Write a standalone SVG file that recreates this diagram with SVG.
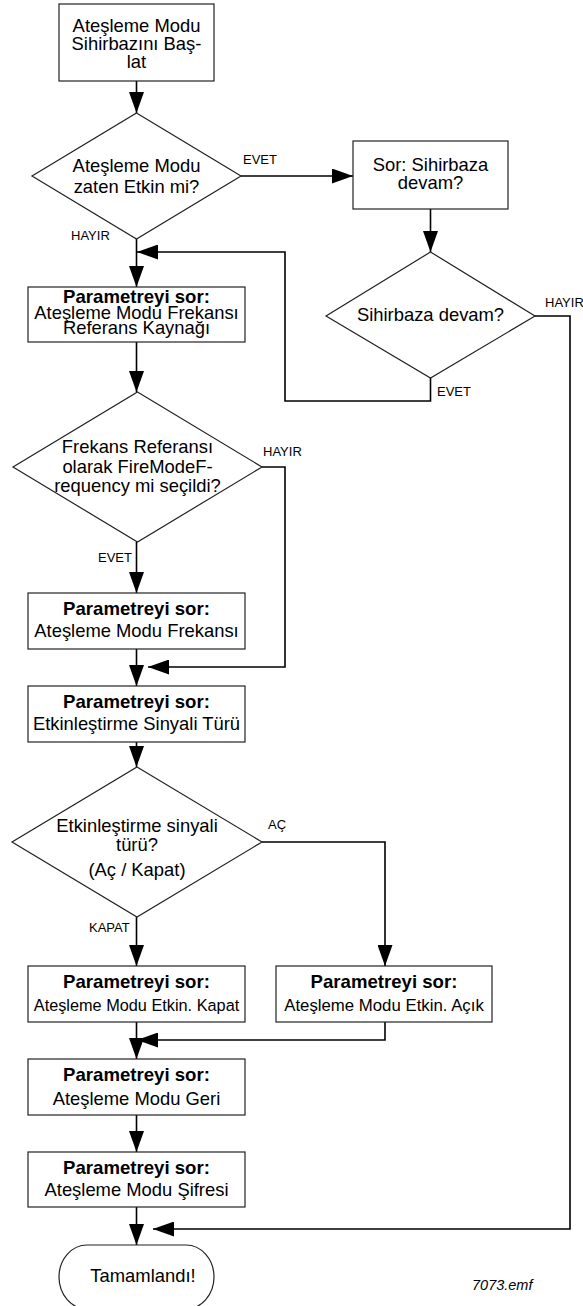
<svg xmlns="http://www.w3.org/2000/svg" width="583" height="1306" viewBox="0 0 583 1306">
<style>
.shape{fill:#fff;stroke:#222;stroke-width:1.2}
.t{font-family:"Liberation Sans",Arial,sans-serif;font-size:18.4px;fill:#000;text-anchor:middle}
.b{font-weight:bold;font-size:18.6px}
.s{font-size:16.3px}
.lbl{font-family:"Liberation Sans",Arial,sans-serif;font-size:13px;fill:#000}
.c{fill:none;stroke:#000;stroke-width:1.6}
</style>
<defs>
<marker id="ah" markerUnits="userSpaceOnUse" markerWidth="21" markerHeight="15" refX="21" refY="7.5" orient="auto" viewBox="0 0 21 15">
<path d="M0,0 L21,7.5 L0,15 z" fill="#000"/>
</marker>
</defs>
<rect width="583" height="1306" fill="#fff"/>
<g id="connectors">
<path class="c" d="M136.5,81 V113" marker-end="url(#ah)"/>
<path class="c" d="M241,176 H353" marker-end="url(#ah)"/>
<path class="c" d="M430.5,209 V252" marker-end="url(#ah)"/>
<path class="c" d="M430.5,378 V401 H285 V252 H137" marker-end="url(#ah)"/>
<path class="c" d="M535,316 H570 V1229 H153" marker-end="url(#ah)"/>
<path class="c" d="M136.5,239 V287" marker-end="url(#ah)"/>
<path class="c" d="M136.5,342 V392" marker-end="url(#ah)"/>
<path class="c" d="M136.5,542 V593" marker-end="url(#ah)"/>
<path class="c" d="M262,467 H285 V667 H148" marker-end="url(#ah)"/>
<path class="c" d="M136.5,649 V686" marker-end="url(#ah)"/>
<path class="c" d="M136.5,742 V767" marker-end="url(#ah)"/>
<path class="c" d="M136.5,917 V966" marker-end="url(#ah)"/>
<path class="c" d="M262,842 H385 V966" marker-end="url(#ah)"/>
<path class="c" d="M385,1022 V1040 H137" marker-end="url(#ah)"/>
<path class="c" d="M136.5,1022 V1059" marker-end="url(#ah)"/>
<path class="c" d="M136.5,1115 V1152" marker-end="url(#ah)"/>
<path class="c" d="M136.5,1207 V1245" marker-end="url(#ah)"/>
<text class="lbl" x="243" y="164">EVET</text>
<text class="lbl" x="71" y="240">HAYIR</text>
<text class="lbl" x="545" y="307">HAYIR</text>
<text class="lbl" x="437" y="396">EVET</text>
<text class="lbl" x="263" y="456">HAYIR</text>
<text class="lbl" x="98" y="562">EVET</text>
<text class="lbl" x="268" y="829">AÇ</text>
<text class="lbl" x="89" y="932">KAPAT</text>
</g>
<g id="start">
<rect class="shape" x="59" y="4" width="155" height="77"/>
<text class="t" x="136.5" y="31.5">Ateşleme Modu</text>
<text class="t" x="136.5" y="50">Sihirbazını Baş-</text>
<text class="t" x="136.5" y="68">lat</text>
</g>
<g id="d-etkin">
<polygon class="shape" points="136.5,113 241,176 136.5,239 32,176"/>
<text class="t" x="136.5" y="172">Ateşleme Modu</text>
<text class="t" x="136.5" y="193">zaten Etkin mi?</text>
</g>
<g id="sor-sihirbaz">
<rect class="shape" x="353" y="141" width="155" height="68"/>
<text class="t" x="430.5" y="171">Sor: Sihirbaza</text>
<text class="t" x="430.5" y="189">devam?</text>
</g>
<g id="d-sihirbaz">
<polygon class="shape" points="430.5,252 535,316 430.5,378 326,316"/>
<text class="t" x="430.5" y="321">Sihirbaza devam?</text>
</g>
<g id="p-kaynak">
<rect class="shape" x="28" y="287" width="217" height="55"/>
<text class="t b" x="136.5" y="303">Parametreyi sor:</text>
<text class="t" x="136.5" y="319">Ateşleme Modu Frekansı</text>
<text class="t" x="136.5" y="334">Referans Kaynağı</text>
</g>
<g id="d-frekans">
<polygon class="shape" points="137.5,392 262,467 137.5,542 13,467"/>
<text class="t" x="137.5" y="453">Frekans Referansı</text>
<text class="t" x="137.5" y="473">olarak FireModeF-</text>
<text class="t" x="137.5" y="492">requency mi seçildi?</text>
</g>
<g id="p-frekans">
<rect class="shape" x="28" y="593" width="217" height="56"/>
<text class="t b" x="136.5" y="614.5">Parametreyi sor:</text>
<text class="t" x="136.5" y="637">Ateşleme Modu Frekansı</text>
</g>
<g id="p-sinyal">
<rect class="shape" x="28" y="686" width="217" height="56"/>
<text class="t b" x="136.5" y="707.5">Parametreyi sor:</text>
<text class="t" x="136.5" y="730">Etkinleştirme Sinyali Türü</text>
</g>
<g id="d-sinyal">
<polygon class="shape" points="137,767 262,842 137,917 12,842"/>
<text class="t" x="137" y="832">Etkinleştirme sinyali</text>
<text class="t" x="137" y="851">türü?</text>
<text class="t" x="137" y="876">(Aç / Kapat)</text>
</g>
<g id="p-kapat">
<rect class="shape" x="28" y="966" width="217" height="56"/>
<text class="t b" x="136.5" y="987.5">Parametreyi sor:</text>
<text class="t s" x="136.5" y="1011">Ateşleme Modu Etkin. Kapat</text>
</g>
<g id="p-acik">
<rect class="shape" x="276" y="966" width="216" height="56"/>
<text class="t b" x="384" y="987.5">Parametreyi sor:</text>
<text class="t" style="font-size:16.8px" x="384" y="1011">Ateşleme Modu Etkin. Açık</text>
</g>
<g id="p-geri">
<rect class="shape" x="28" y="1059" width="217" height="56"/>
<text class="t b" x="136.5" y="1080.5">Parametreyi sor:</text>
<text class="t" x="136.5" y="1105">Ateşleme Modu Geri</text>
</g>
<g id="p-sifre">
<rect class="shape" x="28" y="1152" width="217" height="55"/>
<text class="t b" x="136.5" y="1173.5">Parametreyi sor:</text>
<text class="t" x="136.5" y="1196">Ateşleme Modu Şifresi</text>
</g>
<g id="end">
<rect class="shape" x="59" y="1245" width="155" height="64" rx="28" ry="32"/>
<text class="t" x="143" y="1282">Tamamlandı!</text>
</g>
<text x="472" y="1290" style="font-family:'Liberation Sans',Arial,sans-serif;font-size:14.5px;font-style:italic;fill:#000">7073.emf</text>
</svg>
